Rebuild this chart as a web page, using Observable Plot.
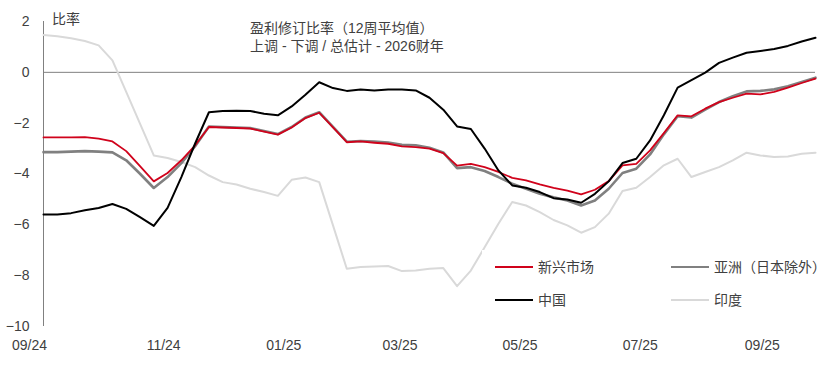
<!DOCTYPE html>
<html>
<head>
<meta charset="utf-8">
<script src="https://cdn.jsdelivr.net/npm/d3@7"></script>
<script src="https://cdn.jsdelivr.net/npm/@observablehq/plot@0.6"></script>
<style>
  html, body { margin: 0; padding: 0; background: #fff; }
  #wrap { position: relative; width: 826px; height: 378px; overflow: hidden; font-family: "Liberation Sans", "Noto Sans CJK SC", sans-serif; color: #404040; }
  .txt { position: absolute; white-space: nowrap; line-height: 18px; }
  #legend { position: absolute; left: 482px; top: 250px; width: 344px; height: 66px; background: #fff; }
  .item { position: absolute; display: flex; align-items: center; font-size: 14px; line-height: 18px; }
  .sw { width: 38px; height: 2px; margin-right: 5px; }
</style>
</head>
<body>
<div id="wrap">
  <div id="chart"></div>
  <div class="txt" style="left:52px; top:10px; font-size:14px;">比率</div>
  <div class="txt" style="left:250px; top:19px; font-size:14px;">盈利修订比率（12周平均值）</div>
  <div class="txt" style="left:250px; top:37px; font-size:14px;">上调 - 下调 / 总估计 - 2026财年</div>
  <div id="legend"></div>
</div>
<script>
const weeks = ["2024-09-01","2024-09-08","2024-09-15","2024-09-22","2024-09-29","2024-10-06","2024-10-13","2024-10-20","2024-10-27",
"2024-11-03","2024-11-10","2024-11-17","2024-11-24","2024-12-01","2024-12-08","2024-12-15","2024-12-22","2024-12-29",
"2025-01-05","2025-01-12","2025-01-19","2025-01-26","2025-02-02","2025-02-09","2025-02-16","2025-02-23",
"2025-03-02","2025-03-09","2025-03-16","2025-03-23","2025-03-30","2025-04-06","2025-04-13","2025-04-20","2025-04-27",
"2025-05-04","2025-05-11","2025-05-18","2025-05-25","2025-06-01","2025-06-08","2025-06-15","2025-06-22","2025-06-29",
"2025-07-06","2025-07-13","2025-07-20","2025-07-27","2025-08-03","2025-08-10","2025-08-17","2025-08-24","2025-08-31",
"2025-09-07","2025-09-14","2025-09-21","2025-09-28"];

const seriesNames = ["新兴市场", "亚洲（日本除外）", "中国", "印度"];
const seriesColors = ["#d0021b", "#808080", "#000000", "#d9d9d9"];

const em = [-2.56,-2.56,-2.56,-2.55,-2.61,-2.72,-3.10,-3.69,-4.29,-3.96,-3.46,-2.87,-2.15,-2.17,-2.19,-2.21,-2.33,-2.45,-2.17,-1.80,-1.59,-2.17,-2.75,-2.72,-2.77,-2.81,-2.91,-2.94,-3.00,-3.18,-3.67,-3.60,-3.73,-3.92,-4.15,-4.25,-4.41,-4.55,-4.65,-4.80,-4.62,-4.28,-3.66,-3.60,-3.07,-2.39,-1.69,-1.73,-1.43,-1.17,-1.00,-0.84,-0.87,-0.77,-0.60,-0.42,-0.25];
const asiaXJ = [-3.14,-3.14,-3.12,-3.10,-3.12,-3.15,-3.46,-3.99,-4.55,-4.12,-3.57,-2.91,-2.13,-2.15,-2.17,-2.19,-2.31,-2.43,-2.15,-1.78,-1.57,-2.15,-2.73,-2.70,-2.72,-2.76,-2.85,-2.87,-2.97,-3.15,-3.77,-3.73,-3.88,-4.12,-4.38,-4.58,-4.78,-4.92,-5.04,-5.24,-5.04,-4.58,-3.96,-3.79,-3.23,-2.44,-1.73,-1.78,-1.47,-1.17,-0.94,-0.75,-0.73,-0.67,-0.55,-0.38,-0.21];
const china = [-5.59,-5.59,-5.54,-5.43,-5.34,-5.18,-5.37,-5.70,-6.04,-5.33,-4.12,-2.80,-1.57,-1.52,-1.51,-1.52,-1.63,-1.69,-1.34,-0.88,-0.39,-0.62,-0.73,-0.68,-0.71,-0.68,-0.68,-0.71,-1.00,-1.47,-2.13,-2.23,-3.00,-3.86,-4.45,-4.54,-4.71,-4.95,-5.00,-5.13,-4.78,-4.29,-3.57,-3.40,-2.68,-1.69,-0.60,-0.31,-0.01,0.37,0.58,0.77,0.84,0.92,1.04,1.21,1.36];
const india = [1.47,1.42,1.34,1.23,1.06,0.47,-0.77,-2.02,-3.27,-3.37,-3.53,-3.73,-4.06,-4.32,-4.41,-4.58,-4.71,-4.86,-4.23,-4.14,-4.32,-6.02,-7.73,-7.66,-7.64,-7.62,-7.82,-7.80,-7.73,-7.70,-8.41,-7.80,-6.88,-5.96,-5.10,-5.24,-5.50,-5.81,-6.02,-6.31,-6.09,-5.56,-4.67,-4.54,-4.12,-3.66,-3.40,-4.12,-3.92,-3.73,-3.46,-3.16,-3.27,-3.33,-3.31,-3.20,-3.16];

const yTicks = [-10, -8, -6, -4, -2, 0, 2];
const xTickDates = ["2024-09-01","2024-11-01","2025-01-01","2025-03-01","2025-05-01","2025-07-01","2025-09-01"];
const xTickLabels = ["09/24","11/24","01/25","03/25","05/25","07/25","09/25"];

const dates = weeks.map(d => new Date(d + "T00:00:00Z"));
const tickDates = xTickDates.map(d => new Date(d + "T00:00:00Z"));
const allValues = [em, asiaXJ, china, india];
const tables = allValues.map(vals => vals.map((v, i) => ({date: dates[i], value: v})));
const fmt = d => xTickLabels[tickDates.findIndex(t => +t === +d)];

const chart = Plot.plot({
  width: 826,
  height: 378,
  marginLeft: 43,
  marginRight: 11,
  marginTop: 21,
  marginBottom: 52,
  x: {type: "utc", domain: [dates[0], dates[dates.length - 1]]},
  y: {domain: [-10, 2]},
  style: {fontFamily: "'Liberation Sans', Arial, sans-serif", fontSize: "14px", color: "#404040", background: "white"},
  marks: [
    Plot.ruleY([0], {stroke: "#808080", strokeWidth: 1}),
    Plot.ruleX([dates[0]], {stroke: "#808080", strokeWidth: 1}),
    Plot.axisY({ticks: yTicks, tickSize: 0, tickPadding: 14, label: null, fontSize: 14}),
    Plot.axisX({ticks: tickDates.slice(0, 1), tickFormat: fmt, tickSize: 0, tickPadding: 14, dx: -14, label: null, fontSize: 14}),
    Plot.axisX({ticks: tickDates.slice(1), tickFormat: fmt, tickSize: 0, tickPadding: 14, label: null, fontSize: 14}),
    Plot.line(tables[3], {x: "date", y: "value", stroke: seriesColors[3], strokeWidth: 2}),
    Plot.line(tables[1], {x: "date", y: "value", stroke: seriesColors[1], strokeWidth: 2.6}),
    Plot.line(tables[0], {x: "date", y: "value", stroke: seriesColors[0], strokeWidth: 1.8}),
    Plot.line(tables[2], {x: "date", y: "value", stroke: seriesColors[2], strokeWidth: 2})
  ]
});
document.getElementById("chart").appendChild(chart);

const legend = document.getElementById("legend");
const legendPos = [[13, 8], [189, 8], [13, 41], [189, 41]];
const legendOrder = [0, 1, 2, 3];
legendOrder.forEach((s, j) => {
  const it = document.createElement("div");
  it.className = "item";
  it.style.left = legendPos[j][0] + "px";
  it.style.top = legendPos[j][1] + "px";
  const sw = document.createElement("div");
  sw.className = "sw";
  sw.style.background = seriesColors[s];
  const lb = document.createElement("span");
  lb.textContent = seriesNames[s];
  it.appendChild(sw);
  it.appendChild(lb);
  legend.appendChild(it);
});
</script>
</body>
</html>
